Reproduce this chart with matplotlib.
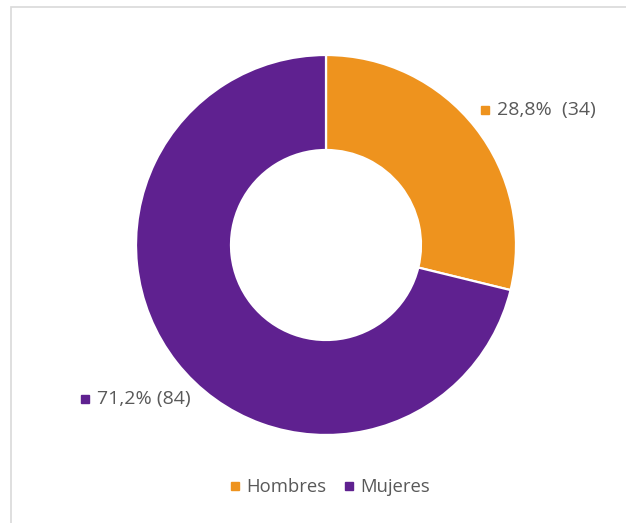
import matplotlib
matplotlib.use("Agg")
import matplotlib.pyplot as plt
from matplotlib.patches import Rectangle
from matplotlib.lines import Line2D

categories = ["Hombres", "Mujeres"]
counts = [34, 84]
colors = ["#EE931E", "#5F2190"]
label_seps = ["  ", " "]

W, H = 626, 523
plt.rcParams["font.family"] = ["Open Sans", "DejaVu Sans"]
text_color = "#595959"

fig = plt.figure(figsize=(W / 100, H / 100), dpi=100)
ax = fig.add_axes([0, 0, 1, 1])

# donut, pixel coordinates (y measured from bottom)
cx, cy, r = 326, H - 245, 190
wedges, _ = ax.pie(counts, colors=colors, startangle=90, counterclock=False,
                   center=(cx, cy), radius=r,
                   wedgeprops=dict(width=r * 0.5, edgecolor="white", linewidth=1.6))
ax.set_xlim(0, W)
ax.set_ylim(0, H)
ax.set_aspect("auto")
ax.axis("off")

# chart border (only top and left visible)
ax.add_patch(Rectangle((11, -50), W + 100, H - 7 + 50, fill=False,
                       edgecolor="#D9D9D9", linewidth=1.2, clip_on=False))

# data labels
total = sum(counts)
label_pos = [(485, H - 110), (85, H - 399)]
for (x, y), c, col, sep in zip(label_pos, counts, colors, label_seps):
    pct = f"{100 * c / total:.1f}%".replace(".", ",")
    ax.plot(x, y, marker="s", markersize=5.5, color=col, linestyle="none")
    ax.text(x + 12, y, f"{pct}{sep}({c})", fontsize=14, color=text_color,
            va="center", ha="left")

# legend
handles = [Line2D([], [], marker="s", markersize=5.5, color=col, linestyle="none")
           for col in colors]
leg = ax.legend(handles, categories, loc="center", bbox_to_anchor=(330 / W, 1 - 487 / H),
                ncol=2, frameon=False, fontsize=13.3, handlelength=0.5,
                handletextpad=0.35, columnspacing=1.0, labelcolor=text_color)

fig.savefig("out.png", dpi=100, facecolor="white")
